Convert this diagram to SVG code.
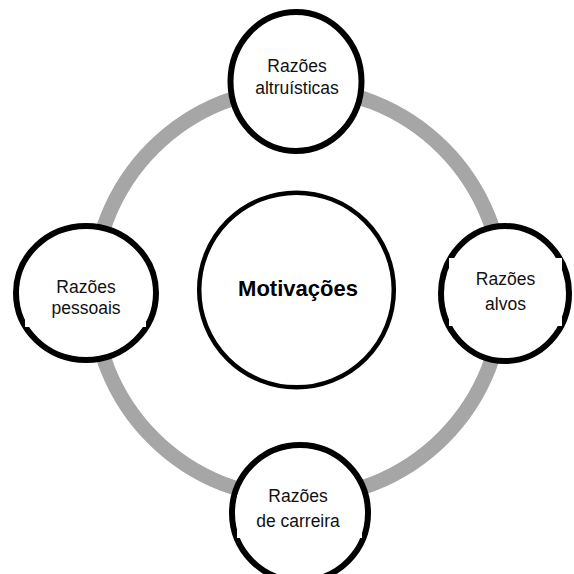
<svg xmlns="http://www.w3.org/2000/svg" width="574" height="574" viewBox="0 0 574 574">
  <style>
    .ring { fill: none; stroke: #a6a6a6; stroke-width: 15; }
    .node { fill: #ffffff; stroke: #000000; stroke-width: 6; }
    .hub { fill: #ffffff; stroke: #000000; stroke-width: 4.5; }
    .lbl { font-family: "Liberation Sans", Arial, sans-serif; font-size: 17.5px; fill: #111111; text-anchor: middle; }
    .hub-lbl { font-family: "Liberation Sans", Arial, sans-serif; font-size: 22px; font-weight: bold; fill: #000000; text-anchor: middle; }
    .box { fill: #ffffff; stroke: none; }
  </style>

  <!-- connecting ring -->
  <g id="connectors">
    <circle class="ring" cx="298" cy="293" r="205"/>
  </g>

  <!-- central node -->
  <g id="motivacoes">
    <circle class="hub" cx="296.5" cy="290" r="97.3"/>
    <text class="hub-lbl" x="298" y="296">Motivações</text>
  </g>

  <!-- outer nodes; white label boxes sit over the inner edge of each outline -->
  <g id="razoes-altruisticas">
    <ellipse class="node" cx="296" cy="81.5" rx="65.5" ry="69.5"/>
    <text class="lbl" x="297" y="72">Razões</text>
    <text class="lbl" x="297" y="94">altruísticas</text>
  </g>

  <g id="razoes-alvos">
    <ellipse class="node" cx="505" cy="293.5" rx="64" ry="67.5"/>
    <rect class="box" x="449" y="258" width="113" height="68"/>
    <text class="lbl" x="505.5" y="285">Razões</text>
    <text class="lbl" x="505.5" y="310">alvos</text>
  </g>

  <g id="razoes-carreira">
    <ellipse class="node" cx="300" cy="513" rx="68" ry="68"/>
    <rect class="box" x="237" y="495" width="125" height="43"/>
    <text class="lbl" x="298" y="502">Razões</text>
    <text class="lbl" x="298" y="527">de carreira</text>
  </g>

  <g id="razoes-pessoais">
    <ellipse class="node" cx="86" cy="293" rx="70" ry="67"/>
    <rect class="box" x="25" y="270" width="121" height="57"/>
    <text class="lbl" x="86" y="293">Razões</text>
    <text class="lbl" x="86" y="314">pessoais</text>
  </g>
</svg>
